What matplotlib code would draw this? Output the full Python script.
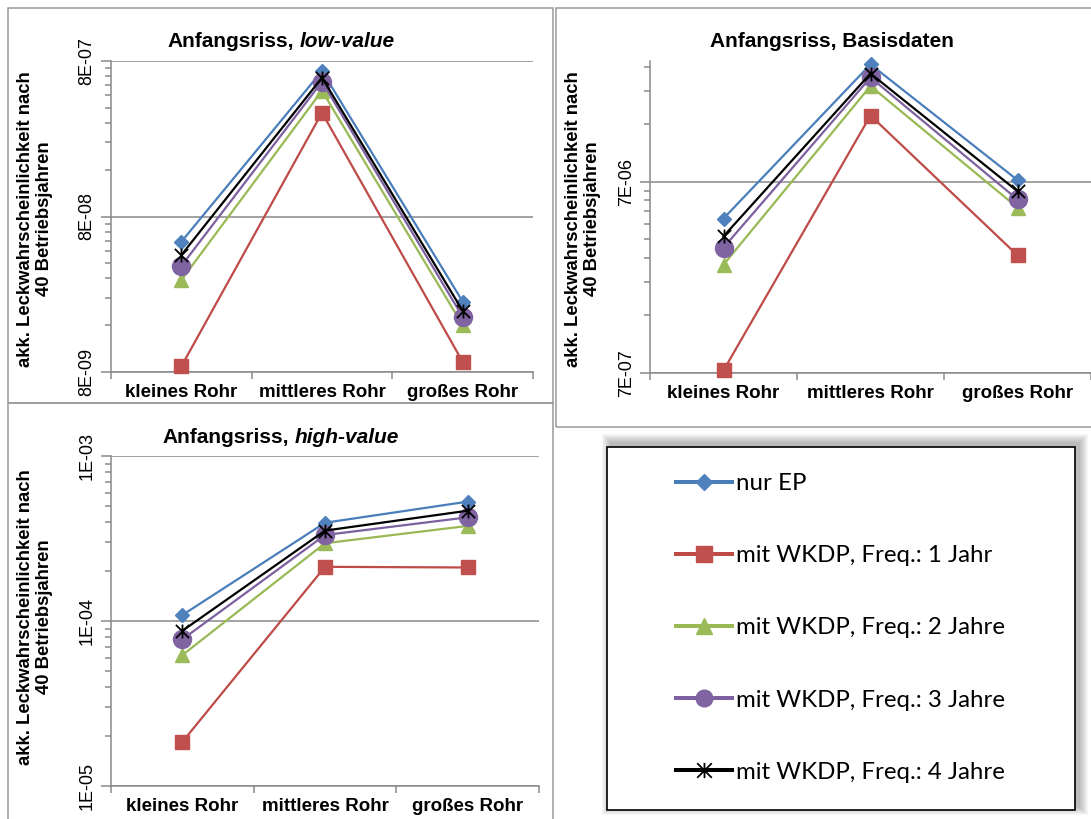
import matplotlib
matplotlib.use("Agg")
import matplotlib.pyplot as plt
from matplotlib.path import Path
from matplotlib.lines import Line2D
from matplotlib.patches import Rectangle
import matplotlib.ticker as mticker

# ---------------- data ----------------
categories = ["kleines Rohr", "mittleres Rohr", "großes Rohr"]
series_labels = ["nur EP", "mit WKDP, Freq.: 1 Jahr", "mit WKDP, Freq.: 2 Jahre",
                 "mit WKDP, Freq.: 3 Jahre", "mit WKDP, Freq.: 4 Jahre"]

# Anfangsriss, low-value
low_nur_ep = [5.5e-8, 6.9e-7, 2.27e-8]
low_f1 = [8.7e-9, 3.72e-7, 9.3e-9]
low_f2 = [3.12e-8, 5.15e-7, 1.6e-8]
low_f3 = [3.85e-8, 5.89e-7, 1.81e-8]
low_f4 = [4.52e-8, 6.25e-7, 1.98e-8]

# Anfangsriss, Basisdaten
base_nur_ep = [4.5e-6, 2.88e-5, 7.15e-6]
base_f1 = [7.22e-7, 1.556e-5, 2.89e-6]
base_f2 = [2.58e-6, 2.22e-5, 5.13e-6]
base_f3 = [3.17e-6, 2.46e-5, 5.66e-6]
base_f4 = [3.63e-6, 2.58e-5, 6.25e-6]

# Anfangsriss, high-value
high_nur_ep = [1.086e-4, 3.94e-4, 5.29e-4]
high_f1 = [1.85e-5, 2.13e-4, 2.11e-4]
high_f2 = [6.21e-5, 2.96e-4, 3.77e-4]
high_f3 = [7.74e-5, 3.32e-4, 4.25e-4]
high_f4 = [8.72e-5, 3.53e-4, 4.66e-4]

ylabel_text = "akk. Leckwahrscheinlichkeit nach\n40 Betriebsjahren"

# ---------------- style ----------------
W, H = 1091, 819
FONT = "Liberation Sans"
GRAY = "#898989"

def fx(px):
    return px / W

def fy(py):
    return 1 - py / H

star = Path([(-1, -1), (1, 1), (-1, 1), (1, -1), (0, -1.05), (0, 1.05)],
            [Path.MOVETO, Path.LINETO] * 3)

styles = [
    dict(color="#4A7EBB", marker="D", ms=6.8, mfc="#4F81BD", mec="#4F81BD", mew=1),
    dict(color="#BE4B48", marker="s", ms=9.8, mfc="#C0504D", mec="#C0504D", mew=1),
    dict(color="#98B954", marker="^", ms=9.5, mfc="#9BBB59", mec="#9BBB59", mew=1),
    dict(color="#7D60A0", marker="o", ms=13, mfc="#8064A2", mec="#8064A2", mew=1),
    dict(color="#000000", marker=star, ms=10, mfc="none", mec="#000000", mew=1.3),
]

fig = plt.figure(figsize=(W / 100, H / 100), dpi=100)

# panel frames
for (x0, y0, x1, y1) in [(8, 8, 553, 403), (8, 403, 553, 840), (556, 8, 1110, 427)]:
    fig.patches.append(Rectangle((fx(x0), fy(y1)), (x1 - x0) / W, (y1 - y0) / H,
                                 transform=fig.transFigure, fill=False,
                                 ec="#9a9a9a", lw=1.1, zorder=1))


def make_panel(rect_px, data, ymin, ymax, bases):
    x0, y0, x1, y1 = rect_px
    ax = fig.add_axes([fx(x0), fy(y1), (x1 - x0) / W, (y1 - y0) / H])
    ax.set_facecolor("none")
    xs = list(range(len(categories)))
    for i, (vals, st) in enumerate(zip(data, styles)):
        ax.plot(xs, vals, lw=1.6, clip_on=False, zorder=3 + i, **st)
    ax.set_yscale("log")
    ax.set_ylim(ymin, ymax)
    ax.set_xlim(-0.5, len(categories) - 0.5)
    majors = [bases * 10 ** k for k in range(0, 3)]
    majors = [m for m in majors if m <= ymax * 1.0001]
    minors = [m * k for m in majors for k in range(2, 10) if m * k <= ymax * 1.0001]
    ax.yaxis.set_major_locator(mticker.FixedLocator(majors))
    ax.yaxis.set_minor_locator(mticker.FixedLocator(minors))
    ax.yaxis.set_major_formatter(mticker.FuncFormatter(lambda v, p: f"{v:.0E}"))
    ax.yaxis.set_minor_formatter(mticker.NullFormatter())
    ax.set_xticks(xs)
    ax.set_xticklabels(categories, fontfamily=FONT, fontweight="bold", fontsize=13.5)
    ax.set_xticks([x - 0.5 for x in xs] + [xs[-1] + 0.5], minor=True)
    ax.tick_params(axis="x", which="major", length=0, pad=8.5)
    ax.tick_params(axis="x", which="minor", length=5, width=1.1, color=GRAY, direction="out")
    ax.tick_params(axis="y", which="major", length=7, width=1.1, color=GRAY,
                   direction="out", pad=4, labelsize=13)
    ax.tick_params(axis="y", which="minor", length=4, width=1.1, color=GRAY, direction="out")
    for lab in ax.get_yticklabels():
        lab.set_rotation(90)
        lab.set_va("center")
        lab.set_fontfamily(FONT)
    ax.yaxis.grid(True, which="major", color=GRAY, lw=1.1, zorder=0)
    ax.set_axisbelow(True)
    for s in ["top", "right"]:
        ax.spines[s].set_visible(False)
    for s in ["left", "bottom"]:
        ax.spines[s].set_color(GRAY)
        ax.spines[s].set_linewidth(1.1)
    return ax


ax_low = make_panel((111, 61, 533, 372), [low_nur_ep, low_f1, low_f2, low_f3, low_f4],
                    8e-9, 8e-7, 8e-9)
ax_base = make_panel((650, 61, 1091, 373), [base_nur_ep, base_f1, base_f2, base_f3, base_f4],
                     7e-7, 3e-5, 7e-7)
ax_high = make_panel((111, 456, 539, 786), [high_nur_ep, high_f1, high_f2, high_f3, high_f4],
                     1e-5, 1e-3, 1e-5)

# y labels
for (cx, cy) in [(35, 219), (583, 219), (35, 617)]:
    fig.text(fx(cx), fy(cy), ylabel_text, rotation=90, ha="center", va="center",
             multialignment="center", fontfamily=FONT, fontweight="bold", fontsize=13.3,
             linespacing=1.15)

# titles
renderer = fig.canvas.get_renderer()
TSIZE = 15


def two_part_title(cx, base_y, p1, p2):
    t1 = fig.text(0, fy(base_y), p1, ha="left", va="baseline", fontfamily=FONT,
                  fontweight="bold", fontsize=TSIZE)
    t2 = fig.text(0, fy(base_y), p2, ha="left", va="baseline", fontfamily=FONT,
                  fontweight="bold", fontstyle="italic", fontsize=TSIZE)
    w1 = t1.get_window_extent(renderer).width
    w2 = t2.get_window_extent(renderer).width
    gap = 0.278 * TSIZE * 100 / 72
    left = cx - (w1 + gap + w2) / 2
    t1.set_x(fx(left))
    t2.set_x(fx(left + w1 + gap))


two_part_title(281, 47, "Anfangsriss,", "low-value")
two_part_title(281, 443, "Anfangsriss,", "high-value")
fig.text(fx(832), fy(47), "Anfangsriss, Basisdaten", ha="center", va="baseline",
         fontfamily=FONT, fontweight="bold", fontsize=TSIZE)

# legend box with soft shadow
bx0, by0, bx1, by1 = 607, 447, 1075, 810
for r in range(9, 0, -1):
    fig.patches.append(Rectangle((fx(bx0 + 4 - r), fy(by1 - 4 + r)),
                                 (bx1 - bx0 + 2 * r) / W, (by1 - by0 + 2 * r) / H,
                                 transform=fig.transFigure, fc="black", ec="none",
                                 alpha=0.03, zorder=1))
fig.patches.append(Rectangle((fx(bx0), fy(by1)), (bx1 - bx0) / W, (by1 - by0) / H,
                             transform=fig.transFigure, fc="white", ec="black",
                             lw=1.2, zorder=2))

handles = []
leg_ms = [8.0, 11, 11, 12, 11]
for st, m in zip(styles, leg_ms):
    d = dict(st)
    d["ms"] = m
    handles.append(Line2D([], [], lw=2.9, **d))
leg = fig.legend(handles, series_labels, loc="center left",
                 bbox_to_anchor=(fx(676), fy(628)), frameon=False,
                 prop={"family": "Lato", "size": 17.3}, handlelength=2.33,
                 handletextpad=0.17, labelspacing=2.13, borderpad=0,
                 borderaxespad=0)
leg.set_zorder(5)

fig.savefig("out.png", dpi=100)
